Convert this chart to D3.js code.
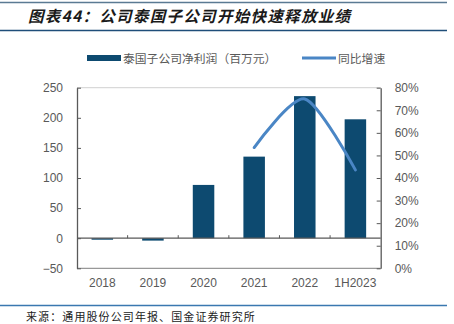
<!DOCTYPE html>
<html><head><meta charset="utf-8">
<script src="https://cdn.jsdelivr.net/npm/d3@7"></script>
<style>
html,body{margin:0;padding:0;background:#fff;}
svg{display:block;}
</style></head>
<body>
<svg id="c" width="454" height="324"></svg>
<script>
const categories = ["2018","2019","2020","2021","2022","1H2023"];
const profit = [-2.5, -4, 88.5, 135.5, 236, 197.5];
const growthCats = ["2021","2022","1H2023"];
const growth = [0.535, 0.75, 0.436];
const leftTicks = [-50,0,50,100,150,200,250];
const rightTicks = [0,0.1,0.2,0.3,0.4,0.5,0.6,0.7,0.8];
const titleText = "图表44：公司泰国子公司开始快速释放业绩";
const sourceText = "来源：通用股份公司年报、国金证券研究所";
const legendBar = "泰国子公司净利润（百万元）";
const legendLine = "同比增速";

const svg = d3.select("#c");
const L = 77, R = 380.7, T = 87.7, B = 268.3;
const font = "Arial, 'Liberation Sans', 'Noto Sans CJK SC', sans-serif";
const grey = "#595959";

// header/footer rules
svg.append("line").attr("x1",0).attr("x2",447).attr("y1",2.5).attr("y2",2.5).attr("stroke","#5a7a93").attr("stroke-width",1.5);
svg.append("line").attr("x1",0).attr("x2",447).attr("y1",30.5).attr("y2",30.5).attr("stroke","#1f4e79").attr("stroke-width",1.5);
svg.append("line").attr("x1",0).attr("x2",447).attr("y1",305.5).attr("y2",305.5).attr("stroke","#3a78b0").attr("stroke-width",1.5);

svg.append("text").attr("x",28).attr("y",22).text(titleText)
  .attr("font-family","'Noto Sans CJK SC', sans-serif").attr("font-size",15.5).attr("font-weight","bold")
  .attr("font-style","italic").attr("letter-spacing",1.3).attr("fill","#1a1a1a");
svg.append("text").attr("x",26).attr("y",321).text(sourceText)
  .attr("font-family","'Noto Sans CJK SC', sans-serif").attr("font-size",11).attr("letter-spacing",1.1).attr("fill","#222");

const x = d3.scaleBand().domain(categories).range([L,R]).paddingInner(0.575).paddingOuter(0.2875);
const y = d3.scaleLinear().domain([-50,250]).range([B,T]);
const y2 = d3.scaleLinear().domain([0,0.8]).range([B,T]);

// top grid line
svg.append("line").attr("x1",L).attr("x2",R).attr("y1",y(250)).attr("y2",y(250)).attr("stroke","#d0d0d0");

// bars
svg.append("g").selectAll("rect").data(profit).join("rect")
  .attr("x",(d,i)=>x(categories[i])).attr("width",x.bandwidth())
  .attr("y",d=>y(Math.max(0,d))).attr("height",d=>Math.abs(y(d)-y(0)))
  .attr("fill","#0d4a70");

// bottom border
svg.append("line").attr("x1",L).attr("x2",R).attr("y1",B).attr("y2",B).attr("stroke","#7f7f7f");

// zero line with category ticks
svg.append("line").attr("x1",L).attr("x2",R).attr("y1",y(0)).attr("y2",y(0)).attr("stroke","#595959").attr("stroke-width",1.2);
const step = (R-L)/categories.length;
svg.append("g").selectAll("line").data(d3.range(1,categories.length)).join("line")
  .attr("x1",i=>L+i*step).attr("x2",i=>L+i*step).attr("y1",y(0)).attr("y2",y(0)-3)
  .attr("stroke","#595959");

// left axis
const la = svg.append("g").attr("transform",`translate(${L},0)`)
  .call(d3.axisLeft(y).tickValues(leftTicks).tickSize(-4).tickPadding(14).tickSizeOuter(0));
la.select(".domain").attr("stroke","#595959").attr("stroke-width",1.3);
la.selectAll(".tick line").attr("stroke","#595959");
la.selectAll("text").attr("font-family",font).attr("font-size",12).attr("fill",grey);

// right axis
const ra = svg.append("g").attr("transform",`translate(${R},0)`)
  .call(d3.axisRight(y2).tickValues(rightTicks).tickSize(-4).tickPadding(14).tickSizeOuter(0).tickFormat(d3.format(".0%")));
ra.select(".domain").attr("stroke","#595959").attr("stroke-width",1.3);
ra.selectAll(".tick line").attr("stroke","#595959");
ra.selectAll("text").attr("font-family",font).attr("font-size",12).attr("fill",grey);

// category labels
svg.append("g").selectAll("text").data(categories).join("text")
  .attr("x",d=>x(d)+x.bandwidth()/2).attr("y",287).attr("text-anchor","middle")
  .attr("font-family",font).attr("font-size",12).attr("fill",grey).text(d=>d);

// growth line
const line = d3.line().x((d,i)=>x(growthCats[i])+x.bandwidth()/2).y(d=>y2(d)).curve(d3.curveCardinal.tension(0.2));
svg.append("path").datum(growth).attr("d",line).attr("fill","none")
  .attr("stroke","#4a86c5").attr("stroke-width",3).attr("stroke-linecap","round");

// legend
svg.append("rect").attr("x",87).attr("y",55).attr("width",34).attr("height",6).attr("fill","#0d4a70");
svg.append("text").attr("x",123).attr("y",62.5).text(legendBar)
  .attr("font-family","'Noto Sans CJK SC', sans-serif").attr("font-size",11.8).attr("fill",grey);
svg.append("line").attr("x1",302).attr("x2",336).attr("y1",58).attr("y2",58).attr("stroke","#4a86c5").attr("stroke-width",3);
svg.append("text").attr("x",338).attr("y",62.5).text(legendLine)
  .attr("font-family","'Noto Sans CJK SC', sans-serif").attr("font-size",11.8).attr("fill",grey);
</script>
</body></html>
